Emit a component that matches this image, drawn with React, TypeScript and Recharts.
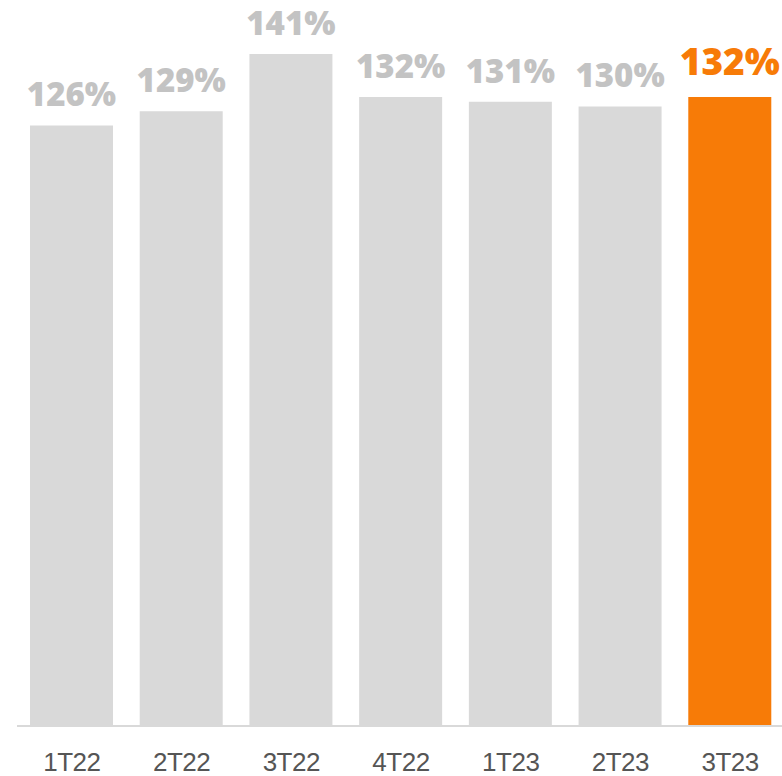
import React from 'react';
import { BarChart, Bar, XAxis, YAxis, Cell, LabelList } from 'recharts';

const categories = ['1T22', '2T22', '3T22', '4T22', '1T23', '2T23', '3T23'];
const values = [126, 129, 141, 132, 131, 130, 132];
const labels = ['126%', '129%', '141%', '132%', '131%', '130%', '132%'];

const data = categories.map((c, i) => ({ name: c, value: values[i], label: labels[i] }));

const GRAY = '#d9d9d9';
const ORANGE = '#f77b07';
const LAST = categories.length - 1;

const renderLabel = (props: any) => {
  const { x, y, width, index } = props;
  const last = index === LAST;
  return (
    <text
      x={x + width / 2}
      y={y - (last ? 22 : 19)}
      textAnchor="middle"
      fill={last ? ORANGE : '#c3c3c3'}
      fontFamily="'Open Sans', sans-serif"
      fontWeight={800}
      fontSize={last ? 37 : 33}
    >
      {labels[index]}
    </text>
  );
};

const renderTick = (props: any) => {
  const { x, y, payload } = props;
  return (
    <text
      x={x}
      y={y + 37}
      textAnchor="middle"
      fill="#555555"
      fontFamily="'Liberation Sans', Arial, sans-serif"
      fontSize={26}
      letterSpacing={-0.5}
    >
      {payload.value}
    </text>
  );
};

export default function App() {
  return (
    <div style={{ position: 'absolute', left: 0, top: 0, width: 782, height: 776, background: '#fff' }}>
      <BarChart
        width={782}
        height={776}
        data={data}
        margin={{ top: 54, right: -3, left: 17, bottom: 0 }}
        barSize={83}
      >
        <YAxis hide domain={[0, 141]} />
        <XAxis
          dataKey="name"
          height={50}
          axisLine={{ stroke: GRAY, strokeWidth: 2 }}
          tickLine={false}
          tick={renderTick}
          interval={0}
        />
        <Bar dataKey="value" isAnimationActive={false}>
          {data.map((d, i) => (
            <Cell key={d.name} fill={i === LAST ? ORANGE : GRAY} />
          ))}
          <LabelList dataKey="label" content={renderLabel} />
        </Bar>
      </BarChart>
    </div>
  );
}
